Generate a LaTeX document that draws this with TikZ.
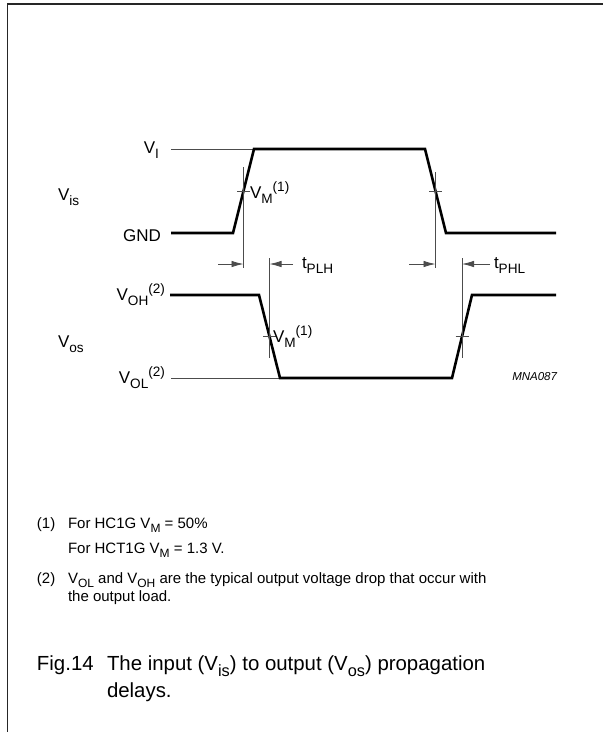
\documentclass[tikz,border=0pt]{standalone}
\usepackage{fontspec}
\setmainfont{Liberation Sans}
\usepackage{graphicx}
\usetikzlibrary{arrows.meta}

\newcommand{\lo}[1]{\raisebox{-0.33em}{\scalebox{0.8}{#1}}}
\newcommand{\hi}[1]{\raisebox{0.36em}{\scalebox{0.8}{#1}}}

\begin{document}
\begin{tikzpicture}[x=10pt, y=-10pt]
\tikzset{ >={Latex[length=12pt,width=6.5pt]}, inner sep=0pt, outer sep=0pt,
  wave/.style={line width=2.6pt},
  guide/.style={line width=0.8pt, black!70},
  lbl/.style={font=\fontsize{17}{20}\selectfont},
  note/.style={font=\fontsize{15}{18}\selectfont, anchor=base west},
  figcap/.style={font=\fontsize{20.4}{24}\selectfont, anchor=base west},
}
\useasboundingbox (0,0) rectangle (60.3,73.2);
%\draw [lightgray, very thin] (0,0) grid (60,73);

% frame
\draw [line width=1.8pt, black!85] (0.75,73.6) -- (0.75,0.38) -- (60.6,0.38);

% input
\coordinate (A0) at (17.1,23.3);
\coordinate (A1) at (23.3,23.3);
\coordinate (A2) at (25.4,14.9);
\coordinate (A3) at (42.5,14.9);
\coordinate (A4) at (44.6,23.3);
\coordinate (A5) at (55.6,23.3);
\coordinate (VI) at (17.1,14.9);

% output
\coordinate (B0) at (17.0,29.5);
\coordinate (B1) at (25.9,29.5);
\coordinate (B2) at (28.0,37.8);
\coordinate (B3) at (45.2,37.8);
\coordinate (B4) at (47.2,29.5);
\coordinate (B5) at (55.6,29.5);
\coordinate (VOL) at (17.1,37.8);

% crossings
\coordinate (M1) at (24.35,19.1);
\coordinate (M2) at (43.55,19.1);
\coordinate (M3) at (26.95,33.65);
\coordinate (M4) at (46.2,33.65);

% arrow level
\coordinate (T1) at (24.35,26.4);
\coordinate (T2) at (26.95,26.4);
\coordinate (T3) at (43.55,26.4);
\coordinate (T4) at (46.2,26.4);

\draw [guide] (VI) -- (A2);
\draw [guide] (VOL) -- (B2);

\draw [wave] (A0) -- (A1) -- (A2) -- (A3) -- (A4) -- (A5);
\draw [wave] (B0) -- (B1) -- (B2) -- (B3) -- (B4) -- (B5);

\draw [guide] ([yshift=24pt]M1) -- ([yshift=-4pt]T1);
\draw [guide] ([yshift=19pt]M2) -- ([yshift=-4pt]T3);
\draw [guide] ([yshift=6pt]T2) -- ([yshift=-21pt]M3);
\draw [guide] ([yshift=6pt]T4) -- ([yshift=-21pt]M4);

\draw [guide] ([xshift=-6.5pt]M1) -- ([xshift=6.5pt]M1);
\draw [guide] ([xshift=-6.5pt]M2) -- ([xshift=6.5pt]M2);
\draw [guide] ([xshift=-6.5pt]M3) -- ([xshift=6.5pt]M3);
\draw [guide] ([xshift=-6.5pt]M4) -- ([xshift=6.5pt]M4);

\draw [guide, ->] ([xshift=-25.5pt]T1) -- (T1);
\draw [guide, ->] ([xshift=23.5pt]T2) -- (T2);
\draw [guide, ->] ([xshift=-26.5pt]T3) -- (T3);
\draw [guide, ->] ([xshift=28pt]T4) -- (T4);

\node [lbl, anchor=base east] (lVI) at (15.9,15.33) {V\lo{I}};
\node [lbl, anchor=base west] (lVis) at (5.8,20.0) {V\lo{is}};
\node [lbl, anchor=base east] (lGND) at (16.1,24.17) {GND};
\node [lbl, anchor=base west] (lVMa) at (25.0,19.8) {V\lo{M}\hi{(1)}};
\node [lbl, anchor=base west] (lPLH) at (30.2,26.8) {t\lo{PLH}};
\node [lbl, anchor=base west] (lPHL) at (49.4,26.8) {t\lo{PHL}};
\node [lbl, anchor=base east] (lVOH) at (16.5,30.0) {V\lo{OH}\hi{(2)}};
\node [lbl, anchor=base west] (lVos) at (5.8,34.7) {V\lo{os}};
\node [lbl, anchor=base east] (lVOL) at (16.5,38.3) {V\lo{OL}\hi{(2)}};
\node [lbl, anchor=base west] (lVMb) at (27.3,34.2) {V\lo{M}\hi{(1)}};
\node [font=\fontsize{11.5}{14}\selectfont\itshape, anchor=base east] (code) at (55.7,38.0) {MNA087};

\node [note] (n1) at (3.7,52.8) {(1)};
\node [note] (n1a) at (6.8,52.8) {For HC1G V\lo{M} = 50\%};
\node [note] (n1b) at (6.8,55.3) {For HCT1G V\lo{M} = 1.3 V.};
\node [note] (n2) at (3.7,58.3) {(2)};
\node [note] (n2a) at (6.8,58.3) {V\lo{OL} and V\lo{OH} are the typical output voltage drop that occur with};
\node [note] (n2b) at (6.8,60.1) {the output load.};

\node [figcap] (fig) at (3.7,67.0) {Fig.14};
\node [figcap] (c1) at (10.7,67.0) {The input (V\lo{is}) to output (V\lo{os}) propagation};
\node [figcap] (c2) at (10.7,69.7) {delays.};

\end{tikzpicture}
\end{document}
